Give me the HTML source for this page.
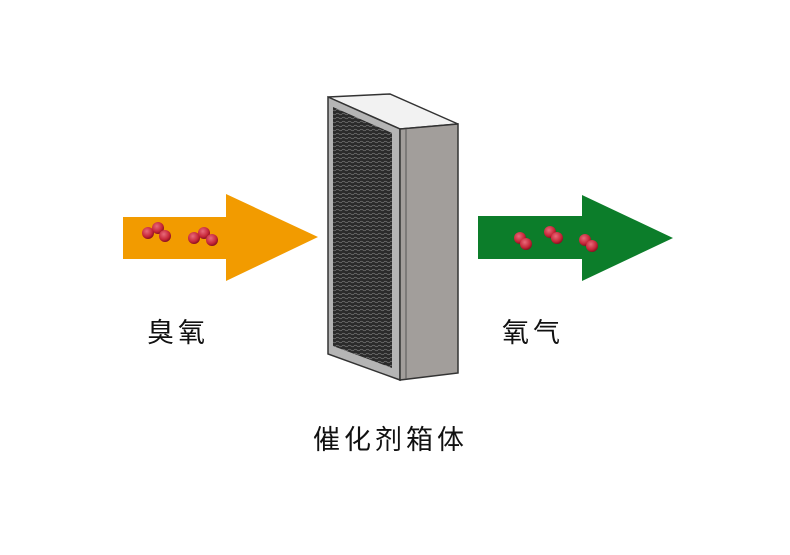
<!DOCTYPE html>
<html><head><meta charset="utf-8"><style>
html,body{margin:0;padding:0;background:#fff;}
.t{position:absolute;font-family:"Liberation Sans","Noto Sans CJK SC",sans-serif;font-size:27px;color:#111;letter-spacing:4px;line-height:32px;}
</style></head><body>
<div style="position:relative;width:790px;height:555px;overflow:hidden;">
<svg width="790" height="555" style="position:absolute;left:0;top:0">
<defs>
<radialGradient id="b" cx="40%" cy="35%" r="65%"><stop offset="0" stop-color="#e86a7a"/><stop offset="0.7" stop-color="#c62638"/><stop offset="1" stop-color="#8a1020"/></radialGradient>
<pattern id="mesh" width="6" height="4" patternUnits="userSpaceOnUse"><rect width="6" height="4" fill="#2b2b2b"/><path d="M0 2 Q1.5 0.5 3 2 T6 2" stroke="#777" stroke-width="0.8" fill="none"/></pattern>
</defs>
<polygon points="123,217 226,217 226,194 318,237 226,281 226,259 123,259" fill="#f29b00"/>
<polygon points="478,216 582,216 582,195 673,238 582,281 582,259 478,259" fill="#0c7d2a"/>
<g fill="url(#b)">
<circle cx="148" cy="233" r="6"/><circle cx="158" cy="228" r="6"/><circle cx="165" cy="236" r="6"/>
<circle cx="194" cy="238" r="6"/><circle cx="204" cy="233" r="6"/><circle cx="212" cy="240" r="6"/>
<circle cx="520" cy="238" r="6"/><circle cx="526" cy="244" r="6"/>
<circle cx="550" cy="232" r="6"/><circle cx="557" cy="238" r="6"/>
<circle cx="585" cy="240" r="6"/><circle cx="592" cy="246" r="6"/>
</g>
<polygon points="328,97 390,94 458,124 400,129" fill="#f2f2f2" stroke="#333" stroke-width="1.5"/>
<polygon points="328,97 400,129 400,380 328,354" fill="#b5b5b5" stroke="#333" stroke-width="1.5"/>
<polygon points="333,107 392,133 392,368 333,346" fill="url(#mesh)"/>
<polygon points="400,129 458,124 458,373 400,380" fill="#a29e9b" stroke="#333" stroke-width="1.5"/>
<line x1="406" y1="129" x2="406" y2="379" stroke="#555" stroke-width="1"/>
</svg>
<div class="t" style="left:147px;top:317px">臭氧</div>
<div class="t" style="left:502px;top:317px">氧气</div>
<div class="t" style="left:313px;top:424px">催化剂箱体</div>
</div>
</body></html>
